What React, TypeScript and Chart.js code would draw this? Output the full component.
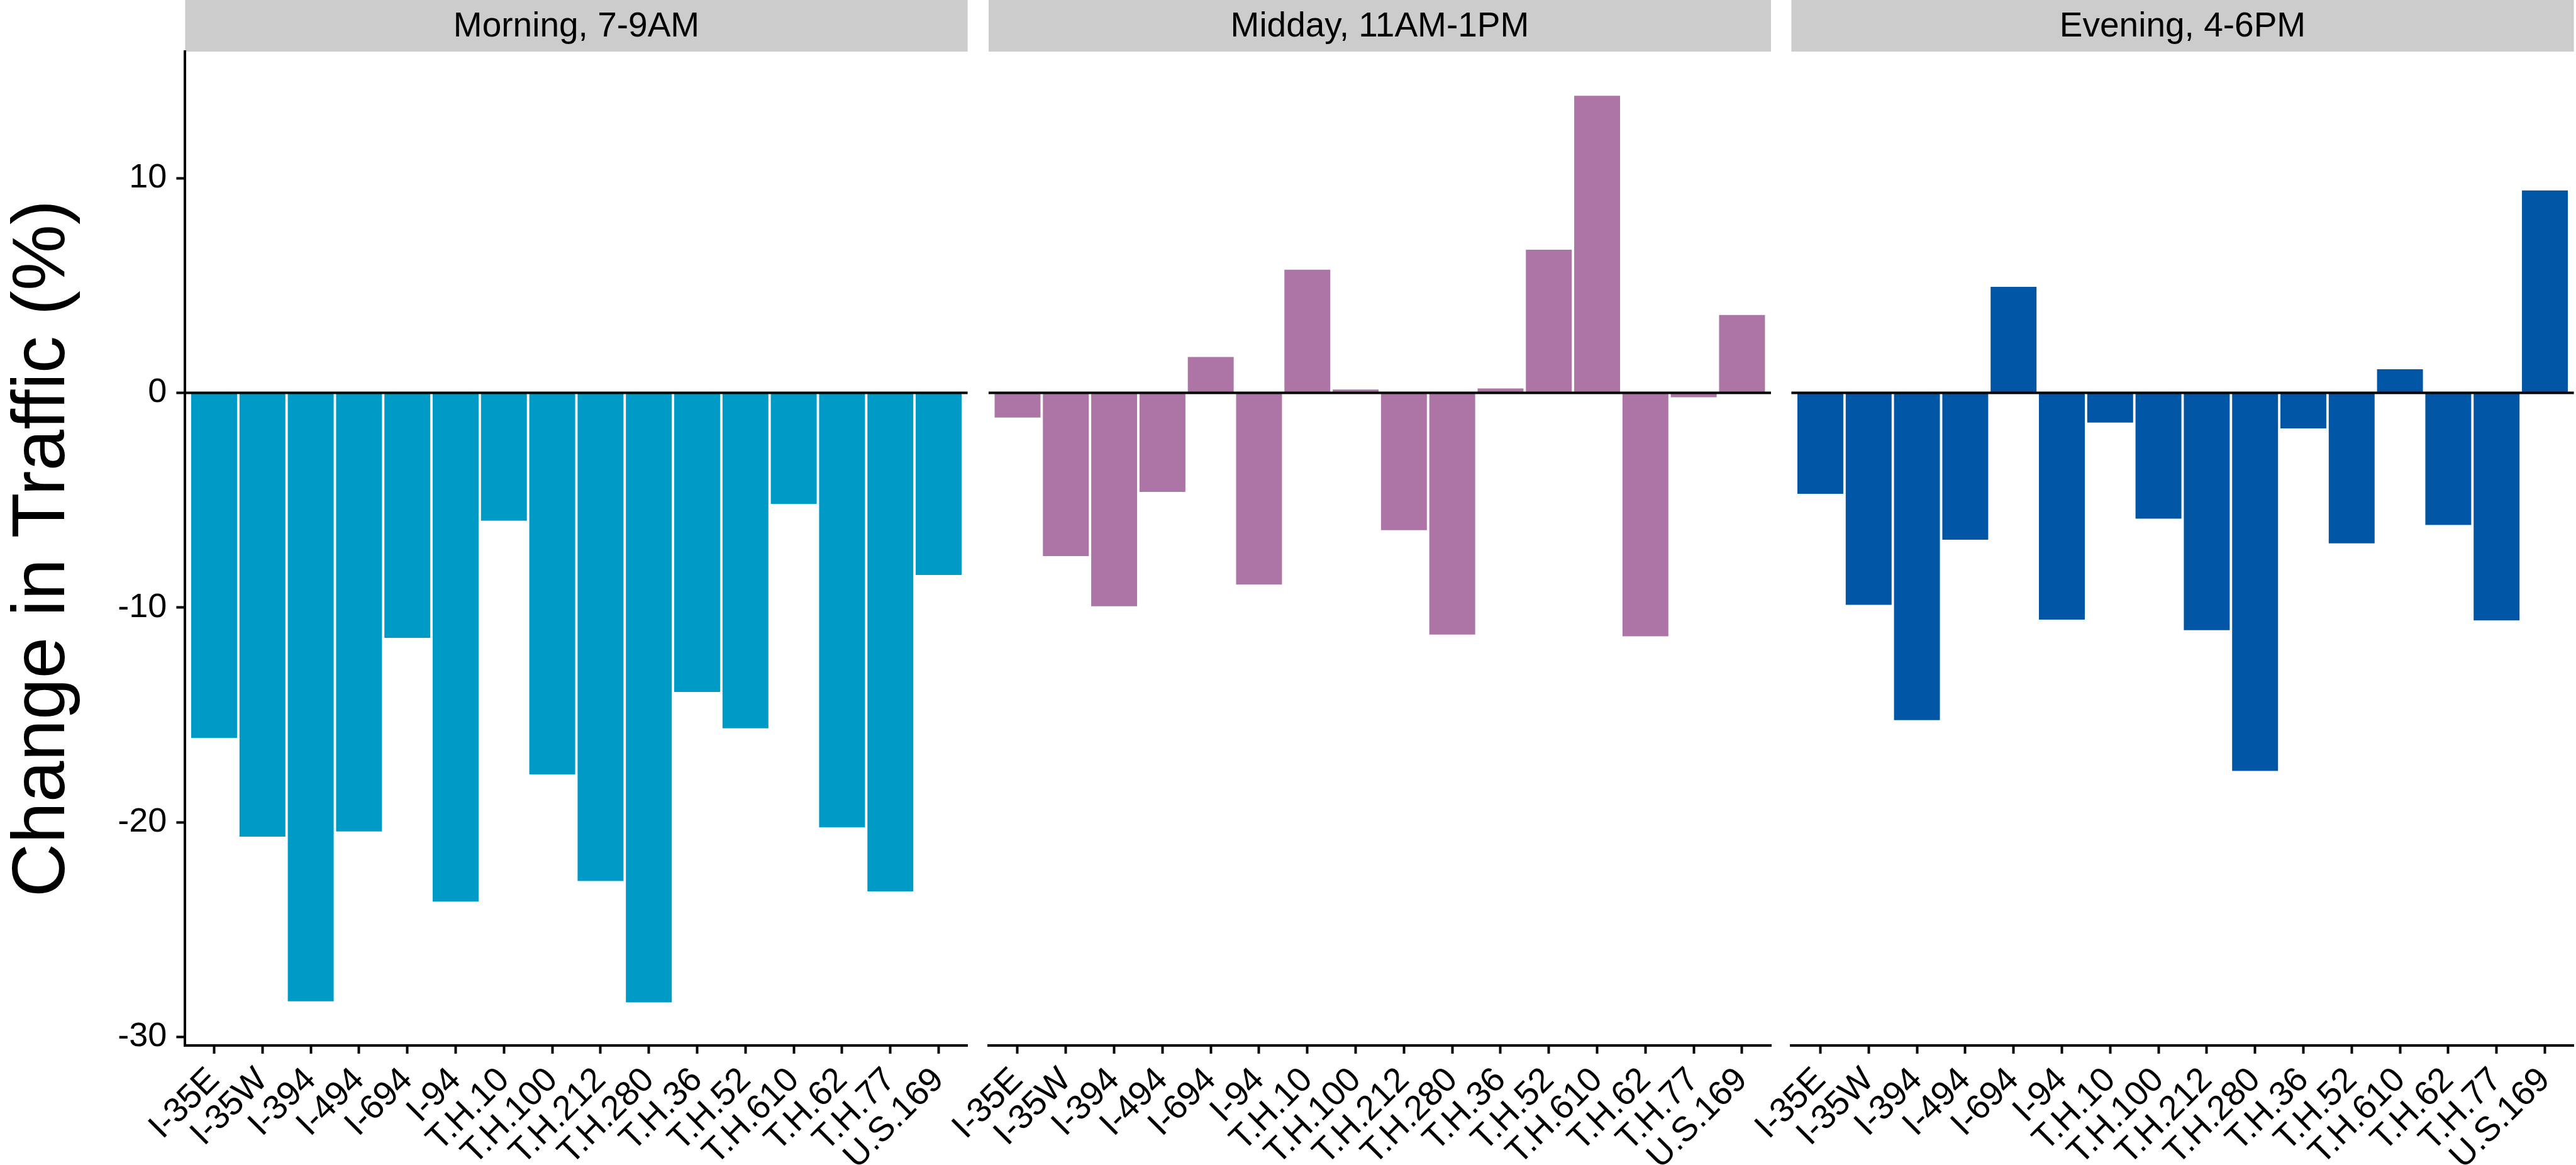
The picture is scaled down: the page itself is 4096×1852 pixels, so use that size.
import React, { useEffect, useRef } from "react";
import { Chart, registerables } from "chart.js";

Chart.register(...registerables);

// ---------- data ----------
const categories = [
  "I-35E", "I-35W", "I-394", "I-494", "I-694", "I-94", "T.H.10", "T.H.100",
  "T.H.212", "T.H.280", "T.H.36", "T.H.52", "T.H.610", "T.H.62", "T.H.77", "U.S.169",
];
const panelTitles = ["Morning, 7-9AM", "Midday, 11AM-1PM", "Evening, 4-6PM"];
const morningValues = [-16.07, -20.67, -28.34, -20.43, -11.41, -23.7, -5.95, -17.77, -22.74, -28.39, -13.93, -15.62, -5.17, -20.24, -23.22, -8.48];
const middayValues = [-1.15, -7.6, -9.94, -4.61, 1.67, -8.93, 5.74, 0.16, -6.39, -11.26, 0.21, 6.67, 13.84, -11.34, -0.2, 3.63];
const eveningValues = [-4.7, -9.87, -15.24, -6.84, 4.94, -10.56, -1.38, -5.86, -11.05, -17.61, -1.65, -7.01, 1.1, -6.15, -10.6, 9.43];
const yTicks = [-30, -20, -10, 0, 10];
const yTitle = "Change in Traffic (%)";
const panelColors = ["#009AC7", "#AD75A5", "#0055A4"];

const seriesList = [morningValues, middayValues, eveningValues];

// ---------- layout ----------
const W = 4096;
const H = 1852;
const STRIP_H = 82;
const AXIS_BOTTOM = 1662;
const PANEL_X: number[][] = [
  [294.4, 1538.6],
  [1571.9, 2816.0],
  [2848.4, 4092.6],
];
const FONT = "'Liberation Sans', Arial, Helvetica, sans-serif";

Chart.defaults.font.family = FONT;

function stripPlugin(title: string) {
  return {
    id: "strip",
    beforeDraw(chart: any) {
      const { ctx, chartArea } = chart;
      ctx.save();
      ctx.fillStyle = "#CCCCCC";
      ctx.fillRect(chartArea.left, 0, chartArea.right - chartArea.left, STRIP_H);
      ctx.fillStyle = "#000000";
      ctx.font = `55px ${FONT}`;
      ctx.textAlign = "center";
      ctx.textBaseline = "middle";
      ctx.fillText(title, (chartArea.left + chartArea.right) / 2, STRIP_H / 2 + 2);
      ctx.restore();
    },
  };
}

const zeroLinePlugin = {
  id: "zeroLine",
  afterDatasetsDraw(chart: any) {
    const { ctx, chartArea, scales } = chart;
    const y = scales.y.getPixelForValue(0);
    ctx.save();
    ctx.strokeStyle = "#000000";
    ctx.lineWidth = 4;
    ctx.beginPath();
    ctx.moveTo(chartArea.left, y);
    ctx.lineTo(chartArea.right, y);
    ctx.stroke();
    ctx.restore();
  },
};

function makeConfig(idx: number): any {
  const [left, right] = PANEL_X[idx];
  const showY = idx === 0;
  const values = seriesList[idx];
  return {
    type: "bar",
    data: {
      datasets: [
        {
          data: values.map((v, i) => ({ x: i, y: v })),
          backgroundColor: panelColors[idx],
          borderWidth: 0,
          categoryPercentage: 0.95,
          barPercentage: 1,
        },
      ],
    },
    options: {
      responsive: false,
      maintainAspectRatio: false,
      animation: false,
      devicePixelRatio: 1,
      events: [],
      layout: {
        padding: { left: showY ? 0 : left, right: W - right, top: STRIP_H, bottom: 0 },
      },
      plugins: {
        legend: { display: false },
        tooltip: { enabled: false },
        title: { display: false },
      },
      scales: {
        x: {
          type: "linear",
          min: -0.6,
          max: 15.6,
          bounds: "data",
          offset: false,
          grid: {
            display: true,
            offset: false,
            drawOnChartArea: false,
            drawTicks: true,
            tickLength: 13,
            tickWidth: 4,
            tickColor: "#000000",
          },
          border: { display: true, color: "#000000", width: 4 },
          ticks: {
            autoSkip: false,
            maxRotation: 45,
            minRotation: 45,
            padding: 10,
            color: "#000000",
            font: { family: FONT, size: 55 },
            callback: (v: number) => categories[Math.round(v)] ?? "",
          },
          afterBuildTicks: (s: any) => {
            s.ticks = categories.map((_, i) => ({ value: i }));
          },
          afterFit: (s: any) => {
            s.height = H - AXIS_BOTTOM;
            s.paddingLeft = 0;
            s.paddingRight = 0;
            s.paddingTop = 0;
            s.paddingBottom = 0;
          },
        },
        y: {
          type: "linear",
          display: showY,
          min: -30.4,
          max: 15.9,
          bounds: "data",
          grid: {
            display: true,
            drawOnChartArea: false,
            drawTicks: true,
            tickLength: 14,
            tickWidth: 4,
            tickColor: "#000000",
          },
          border: { display: true, color: "#000000", width: 4 },
          ticks: {
            padding: 15,
            color: "#000000",
            font: { family: FONT, size: 54 },
            callback: (v: number) => String(v),
          },
          title: {
            display: true,
            text: yTitle,
            color: "#000000",
            font: { family: FONT, size: 118, lineHeight: 1.17 },
            padding: { top: 0, bottom: 0 },
          },
          afterBuildTicks: (s: any) => {
            s.ticks = yTicks.map((v) => ({ value: v }));
          },
          afterFit: (s: any) => {
            if (showY) s.width = left;
            s.paddingTop = 0;
            s.paddingBottom = 0;
            s.paddingLeft = 0;
            s.paddingRight = 0;
          },
        },
      },
    },
    plugins: [stripPlugin(panelTitles[idx]), zeroLinePlugin],
  };
}

function Panel({ idx }: { idx: number }) {
  const ref = useRef<HTMLCanvasElement>(null);
  useEffect(() => {
    const chart = new Chart(ref.current as HTMLCanvasElement, makeConfig(idx));
    return () => chart.destroy();
  }, [idx]);
  return (
    <canvas
      ref={ref}
      width={W}
      height={H}
      style={{ position: "absolute", left: 0, top: 0, width: W, height: H }}
    />
  );
}

export default function App() {
  return (
    <div
      style={{
        position: "fixed",
        left: 0,
        top: 0,
        width: W,
        height: H,
        background: "#ffffff",
        overflow: "hidden",
      }}
    >
      {[0, 1, 2].map((i) => (
        <Panel key={i} idx={i} />
      ))}
    </div>
  );
}
